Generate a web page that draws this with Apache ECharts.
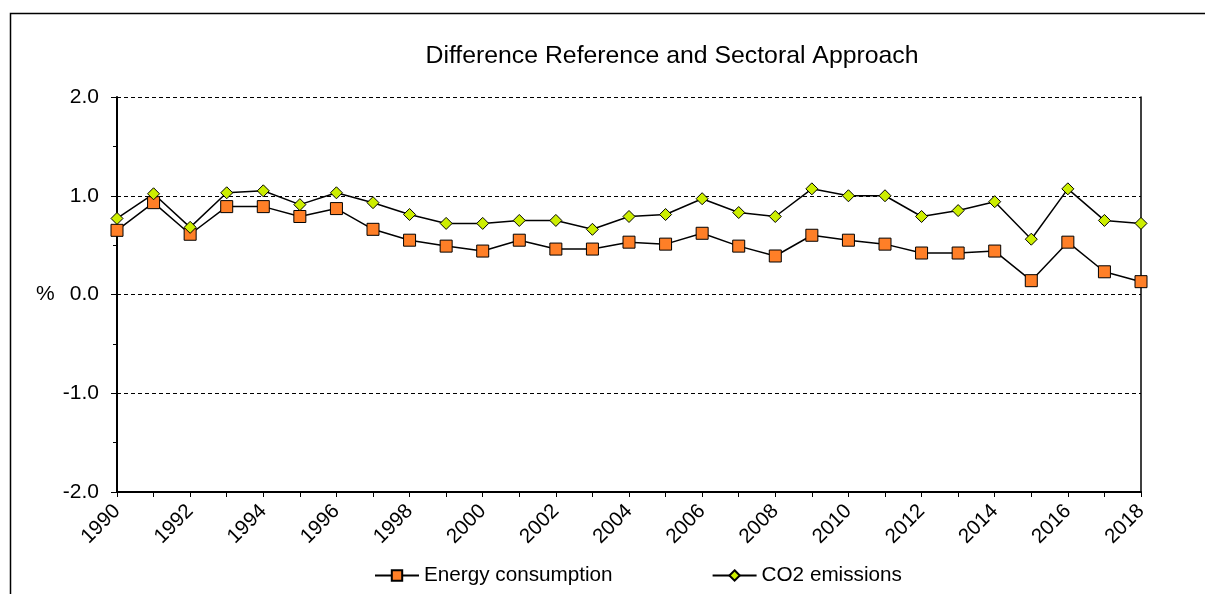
<!DOCTYPE html>
<html><head><meta charset="utf-8">
<script src="https://cdn.jsdelivr.net/npm/echarts@6/dist/echarts.min.js"></script>
<style>html,body{margin:0;padding:0;background:#fff}#c{width:1205px;height:594px}</style>
</head><body><div id="c"></div>
<script>
var years = ['1990','1991','1992','1993','1994','1995','1996','1997','1998','1999','2000','2001','2002','2003','2004','2005','2006','2007','2008','2009','2010','2011','2012','2013','2014','2015','2016','2017','2018'];
var energyConsumption = [0.65,0.93,0.61,0.89,0.89,0.79,0.87,0.66,0.55,0.49,0.44,0.55,0.46,0.46,0.53,0.51,0.62,0.49,0.39,0.60,0.55,0.51,0.42,0.42,0.44,0.14,0.53,0.23,0.13];
var co2Emissions = [0.77,1.02,0.68,1.03,1.05,0.91,1.03,0.93,0.81,0.72,0.72,0.75,0.75,0.66,0.79,0.81,0.97,0.83,0.79,1.07,1.00,1.00,0.79,0.85,0.94,0.56,1.07,0.75,0.72];
var yTicks = [-2, -1, 0, 1, 2];

var font = 'Liberation Sans, Arial, sans-serif';
var chart = echarts.init(document.getElementById('c'), null, {renderer:'canvas'});
chart.setOption({
  animation: false,
  backgroundColor: '#fff',
  title: {text: 'Difference Reference and Sectoral Approach', left: 667, top: 39, textAlign: 'center',
    textStyle: {fontFamily: font, fontSize: 24.8, fontWeight: 'normal', color: '#000'}},
  graphic: [{type: 'rect', shape: {x: 10.5, y: 13.5, width: 1400, height: 800}, style: {fill: 'none', stroke: '#000', lineWidth: 1.5}, silent: true},
    {type: 'text', left: 36, top: 284, style: {text: '%', font: '21px ' + font, fill: '#000'}}],
  legend: {top: 565, left: 374, padding: 0, itemGap: 99, itemWidth: 44, itemHeight: 13,
    textStyle: {fontFamily: font, fontSize: 20.7, color: '#000'},
    data: ['Energy consumption', 'CO2 emissions']},
  grid: {left: 117, top: 97, right: 64, bottom: 102, containLabel: false},
  xAxis: {type: 'category', data: years, boundaryGap: false,
    axisLine: {onZero: false, lineStyle: {color: '#000', width: 2}},
    axisTick: {show: true, interval: 0, inside: false, length: 5, lineStyle: {color: '#000', width: 1}},
    axisLabel: {interval: 1, rotate: 45, color: '#000', fontFamily: font, fontSize: 20.5, margin: 16},
    splitLine: {show: false}},
  yAxis: [{type: 'value', min: yTicks[0], max: yTicks[yTicks.length-1], interval: 1,
    axisLine: {show: true, lineStyle: {color: '#000', width: 2}},
    axisTick: {show: true, length: 6, lineStyle: {color: '#000'}},
    minorTick: {show: true, splitNumber: 2, length: 4, lineStyle: {color: '#000'}},
    axisLabel: {color: '#000', fontFamily: font, fontSize: 21, margin: 18,
      formatter: function(v){ return v.toFixed(1); }},
    splitLine: {show: true, lineStyle: {color: '#000', type: [4, 3], width: 1}}},
   {type: 'value', position: 'right', min: -2, max: 2, interval: 1,
    axisLine: {show: true, lineStyle: {color: '#000', width: 1.5}},
    axisTick: {show: false}, axisLabel: {show: false}, splitLine: {show: false}}],
  series: [
    {name: 'Energy consumption', type: 'line', data: energyConsumption, symbol: 'rect', symbolSize: 12,
      lineStyle: {color: '#000', width: 1.5},
      itemStyle: {color: '#FF7F27', borderColor: '#000', borderWidth: 1}},
    {name: 'CO2 emissions', type: 'line', data: co2Emissions, symbol: 'diamond', symbolSize: 12,
      lineStyle: {color: '#000', width: 1.5},
      itemStyle: {color: '#CCEE00', borderColor: '#000', borderWidth: 1}}
  ]
});
</script></body></html>
